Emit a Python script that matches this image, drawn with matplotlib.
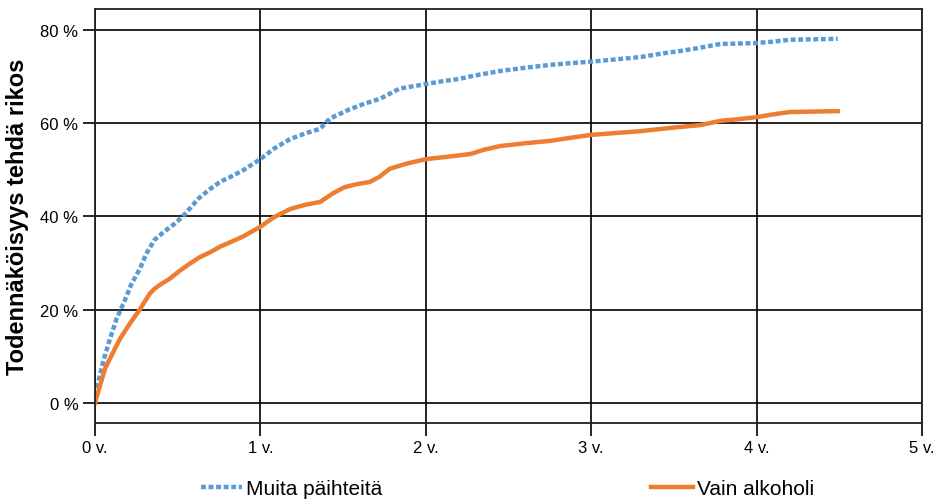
import numpy as np
import matplotlib.pyplot as plt

plt.rcParams['font.family'] = ['Liberation Sans', 'DejaVu Sans']

# time in years, cumulative probability in %
t_muita = [0, 0.02, 0.05, 0.09, 0.13, 0.18, 0.22, 0.27, 0.31, 0.36, 0.42, 0.48, 0.53, 0.57,
           0.63, 0.70, 0.76, 0.82, 0.90, 1.0, 1.08, 1.18, 1.27, 1.36, 1.42, 1.48, 1.54,
           1.63, 1.72, 1.84, 1.92, 2.0, 2.1, 2.2, 2.32, 2.45, 2.6, 2.75, 2.88, 3.0, 3.15,
           3.3, 3.42, 3.54, 3.66, 3.78, 3.9, 4.0, 4.1, 4.2, 4.35, 4.49]
p_muita = [0, 4.5, 9.0, 13.7, 18.0, 22.0, 25.5, 28.7, 32.0, 35.0, 36.8, 38.4, 40.0, 41.6,
           44.0, 46.0, 47.5, 48.5, 50.0, 52.3, 54.5, 56.6, 57.8, 58.8, 61.0, 62.0, 63.0,
           64.2, 65.2, 67.4, 67.9, 68.4, 69.0, 69.5, 70.4, 71.2, 71.9, 72.5, 72.9, 73.2, 73.7,
           74.2, 74.9, 75.5, 76.2, 77.0, 77.1, 77.2, 77.5, 77.9, 78.0, 78.1]

t_alko = [0, 0.02, 0.06, 0.09, 0.12, 0.15, 0.21, 0.27, 0.33, 0.36, 0.40, 0.45, 0.51, 0.57,
          0.63, 0.70, 0.76, 0.82, 0.90, 1.0, 1.08, 1.18, 1.27, 1.36, 1.44, 1.51, 1.58,
          1.66, 1.72, 1.78, 1.88, 2.0, 2.13, 2.27, 2.35, 2.45, 2.6, 2.75, 2.88, 3.0, 3.15,
          3.3, 3.48, 3.66, 3.78, 3.9, 4.0, 4.1, 4.2, 4.35, 4.49]
p_alko = [0, 2.5, 7.3, 9.5, 11.6, 13.7, 17.0, 20.0, 23.4, 24.5, 25.5, 26.6, 28.3, 29.8,
          31.2, 32.4, 33.6, 34.5, 35.8, 37.8, 39.8, 41.6, 42.5, 43.1, 45.0, 46.3, 46.9,
          47.4, 48.5, 50.2, 51.3, 52.3, 52.8, 53.4, 54.3, 55.1, 55.7, 56.2, 56.9, 57.5, 57.9,
          58.3, 59.0, 59.6, 60.5, 60.9, 61.3, 61.9, 62.4, 62.5, 62.6]

years = [0, 1, 2, 3, 4, 5]
year_labels = ['0 v.', '1 v.', '2 v.', '3 v.', '4 v.', '5 v.']
pct = [0, 20, 40, 60, 80]
pct_labels = ['0 %', '20 %', '40 %', '60 %', '80 %']

fig = plt.figure(figsize=(9.38, 5.02), dpi=100)
ax = fig.add_axes([0.1013, 0.1554, 0.8817, 0.8247])

l1, = ax.plot(t_muita, p_muita, color='#5b9bd5', lw=3.2,
              dashes=(1.1, 0.6), label='Muita päihteitä')
l2, = ax.plot(t_alko, p_alko, color='#ed7d31', lw=3.2,
              label='Vain alkoholi')

ax.set_xlim(0, 5)
ax.set_ylim(-4.3, 84.5)
ax.set_xticks(years)
ax.set_xticklabels(year_labels)
ax.set_yticks(pct)
ax.set_yticklabels(pct_labels)
ax.tick_params(axis='both', labelsize=12, length=9, width=1.2, color='black', pad=3)
ax.grid(True, color='black', lw=1.2)
ax.set_axisbelow(True)
for s in ax.spines.values():
    s.set_linewidth(1.3)
    s.set_color('#222222')

ax.set_ylabel('Todennäköisyys tehdä rikos', fontsize=17, fontweight='bold', labelpad=8)

fig.legend(handles=[l1], loc='center left', bbox_to_anchor=(0.205, 0.024), frameon=False,
           fontsize=15, handlelength=2.0, handletextpad=0.2, borderaxespad=0)
fig.legend(handles=[l2], loc='center left', bbox_to_anchor=(0.685, 0.024), frameon=False,
           fontsize=15, handlelength=2.0, handletextpad=0.2, borderaxespad=0)

fig.savefig('out.png', dpi=100)
